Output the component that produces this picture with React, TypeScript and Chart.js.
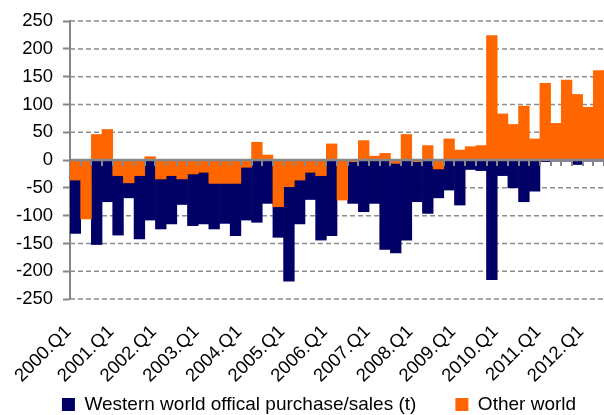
import React, { useEffect, useRef } from 'react';
import { Chart, registerables } from 'chart.js';

Chart.register(...registerables);

const years = ['2000', '2001', '2002', '2003', '2004', '2005', '2006', '2007', '2008', '2009', '2010', '2011', '2012'];
const quarterNames = ['Q1', 'Q2', 'Q3', 'Q4'];
const categories: string[] = [];
years.forEach((y) => quarterNames.forEach((q) => categories.push(`${y}.${q}`)));
categories.splice(50); // data runs 2000.Q1 .. 2012.Q2

const westernLabel = 'Western world offical purchase/sales (t)';
const otherLabel = 'Other world';

// Western world official purchase/sales (t), per quarter
const westernValues = [
  -132, -50, -152, -75, -135, -68, -142, -108,
  -124, -115, -80, -118, -115, -124, -114, -136,
  -108, -112, -78, -139, -218, -115, -71, -144,
  -136, -40, -78, -93, -78, -161, -167, -144,
  -75, -96, -68, -54, -81, -17, -19, -215,
  -28, -50, -75, -56, -3, -2, -2, -8,
  -2, -2,
];

// Other world, per quarter
const otherValues = [
  -36, -106, 46, 55, -28, -41, -28, 6,
  -34, -28, -34, -25, -22, -42, -42, -42,
  -13, 32, 9, -84, -48, -36, -22, -28,
  29, -72, -3, 35, 7, 12, -6, 46,
  -3, 26, -16, 38, 18, 24, 26, 224,
  83, 64, 97, 38, 138, 66, 144, 118,
  95, 161,
];

const yTicks = { min: -250, max: 250, step: 50 };

const FONT = "'Liberation Sans', Arial, Helvetica, sans-serif";
const NAVY = '#000066';
const ORANGE = '#FF6600';
const AXIS_GRAY = '#868686';
const GRID_GRAY = '#8c8c8c';
const LEGEND_SHIFT = 17;

const dashedGridPlugin = {
  id: 'dashedGrid',
  beforeDatasetsDraw(chart: any) {
    const { ctx, chartArea, scales } = chart;
    const y = scales.y;
    ctx.save();
    ctx.strokeStyle = GRID_GRAY;
    ctx.lineWidth = 1.5;
    ctx.setLineDash([5, 3]);
    y.ticks.forEach((t: any) => {
      if (t.value === 0) return;
      const py = y.getPixelForValue(t.value);
      ctx.beginPath();
      ctx.moveTo(chartArea.left, py);
      ctx.lineTo(chartArea.right, py);
      ctx.stroke();
    });
    ctx.restore();
  },
};

const zeroLinePlugin = {
  id: 'zeroLine',
  afterDatasetsDraw(chart: any) {
    const { ctx, chartArea, scales } = chart;
    const x = scales.x;
    const y = scales.y;
    const y0 = y.getPixelForValue(0);
    const n = chart.data.labels.length;
    const step = (x.getPixelForValue(n - 1) - x.getPixelForValue(0)) / (n - 1);
    ctx.save();
    ctx.strokeStyle = AXIS_GRAY;
    ctx.lineWidth = 2.5;
    ctx.beginPath();
    ctx.moveTo(chartArea.left, y0);
    ctx.lineTo(chartArea.right, y0);
    ctx.stroke();
    ctx.lineWidth = 2;
    ctx.beginPath();
    for (let i = 0; i < n; i++) {
      const xb = Math.round(x.getPixelForValue(i) + step / 2);
      ctx.moveTo(xb, y0);
      ctx.lineTo(xb, y0 + 6);
    }
    ctx.stroke();
    ctx.restore();
  },
};

const layoutTweakPlugin = {
  id: 'layoutTweak',
  afterLayout(chart: any) {
    const lg = chart.legend;
    if (lg) {
      lg.left += LEGEND_SHIFT;
      lg.right += LEGEND_SHIFT;
    }
    const x = chart.scales.x;
    if (x) x.bottom = chart.height;
  },
};

export default function App() {
  const ref = useRef<HTMLCanvasElement>(null);

  useEffect(() => {
    document.body.style.margin = '0';
    document.body.style.overflow = 'hidden';
    const canvas = ref.current;
    if (!canvas) return;
    const chart = new Chart(canvas, {
      type: 'bar',
      data: {
        labels: categories,
        datasets: [
          {
            label: westernLabel,
            data: westernValues,
            backgroundColor: NAVY,
            borderWidth: 0,
            grouped: false,
            order: 1,
            barPercentage: 1,
            categoryPercentage: 1,
          } as any,
          {
            label: otherLabel,
            data: otherValues,
            backgroundColor: ORANGE,
            borderWidth: 0,
            grouped: false,
            order: 0,
            barPercentage: 1,
            categoryPercentage: 1,
          } as any,
        ],
      },
      options: {
        responsive: false,
        animation: false,
        events: [],
        layout: { padding: { top: 20, left: 0, right: 0, bottom: -9 } },
        plugins: {
          tooltip: { enabled: false },
          title: { display: false },
          legend: {
            position: 'bottom',
            labels: {
              boxWidth: 13,
              boxHeight: 13,
              padding: 39,
              color: '#000',
              font: { family: FONT, size: 19 },
              sort: (a: any, b: any) => a.datasetIndex - b.datasetIndex,
            },
          },
        },
        scales: {
          x: {
            stacked: false,
            grid: { display: false, drawTicks: false },
            border: { display: false },
            ticks: {
              autoSkip: false,
              maxRotation: 45,
              minRotation: 45,
              padding: 22,
              labelOffset: -7,
              color: '#000',
              font: { family: FONT, size: 18.5 },
              callback: function (this: any, value: any, index: number) {
                const lab = categories[index];
                return lab.endsWith('.Q1') ? lab : null;
              },
            },
            afterFit: (scale: any) => {
              scale.height = 57;
              scale.paddingLeft = 0;
              scale.paddingRight = 0;
            },
          },
          y: {
            min: yTicks.min,
            max: yTicks.max,
            ticks: {
              stepSize: yTicks.step,
              padding: 10,
              color: '#000',
              font: { family: FONT, size: 18.5 },
            },
            grid: {
              drawOnChartArea: false,
              drawTicks: true,
              tickLength: 7,
              tickColor: AXIS_GRAY,
              tickWidth: 2,
            },
            border: { display: true, color: AXIS_GRAY, width: 2 },
            afterFit: (scale: any) => {
              scale.width = 70;
            },
          },
        },
      },
      plugins: [dashedGridPlugin, zeroLinePlugin, layoutTweakPlugin],
    } as any);
    return () => chart.destroy();
  }, []);

  return (
    <div style={{ width: 604, height: 415 }}>
      <canvas ref={ref} width={604} height={415} style={{ display: 'block' }} />
    </div>
  );
}
